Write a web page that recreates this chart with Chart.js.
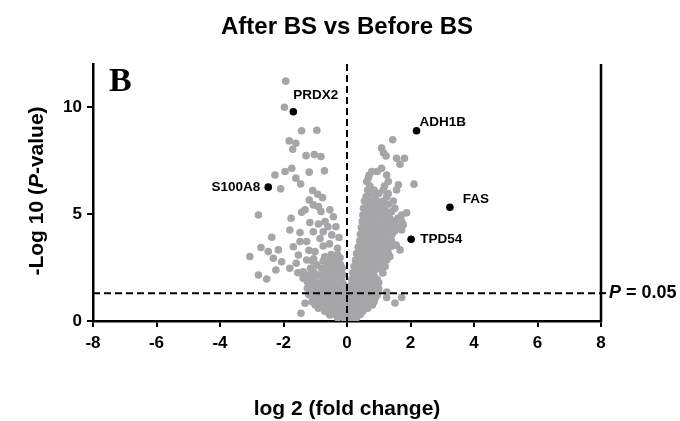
<!DOCTYPE html>
<html>
<head>
<meta charset="utf-8">
<script src="https://cdn.jsdelivr.net/npm/chart.js@4.4.1/dist/chart.umd.min.js"></script>
<style>
  html, body { margin: 0; padding: 0; background: #fff; }
  canvas { display: block; }
</style>
</head>
<body>
<canvas id="volcano" width="680" height="421"></canvas>
<script>
// labelled genes
const geneNames = ['PRDX2', 'S100A8', 'ADH1B', 'FAS', 'TPD54'];
const geneX = [-1.69, -2.48, 2.19, 3.24, 2.02];
const geneY = [9.77, 6.25, 8.88, 5.31, 3.82];

// down-regulated arm (left side)
const downPts = [
  [-1.93, 11.2], [-1.97, 9.98], [-1.43, 8.88], [-0.95, 8.91], [-1.82, 8.41], [-1.61, 8.30],
  [-1.71, 8.02], [-1.29, 7.72], [-1.03, 7.77], [-0.82, 7.68],
  [-1.74, 7.13], [-1.95, 6.98], [-2.27, 6.82], [-1.19, 6.95], [-0.71, 7.01], [-1.61, 6.67],
  [-1.46, 6.40], [-2.09, 6.17], [-1.08, 6.09], [-0.92, 5.92], [-0.77, 5.76], [-1.19, 5.65],
  [-1.06, 5.42], [-0.90, 5.34], [-1.32, 5.19], [-1.43, 5.08], [-0.82, 5.11], [-0.54, 5.19],
  [-0.43, 4.87], [-2.79, 4.95], [-1.76, 4.80], [-1.17, 4.60], [-0.90, 4.53], [-0.69, 4.64],
  [-1.80, 4.25], [-1.48, 4.13], [-1.06, 4.17], [-0.75, 4.17], [-0.48, 4.02], [-2.37, 3.91],
  [-2.71, 3.43], [-2.48, 3.24], [-2.16, 3.32], [-3.06, 3.01], [-2.32, 2.93], [-2.06, 2.77],
  [-1.80, 2.46], [-2.24, 2.38], [-2.79, 2.15], [-2.53, 1.96], [-1.69, 3.47], [-1.48, 3.71],
  [-1.27, 3.71], [-1.53, 3.08], [-1.27, 2.85], [-1.01, 3.24], [-0.95, 2.62], [-1.38, 2.30],
  [-1.38, 2.00], [-0.85, 2.15], [-0.54, 2.77], [-0.43, 1.84], [-1.17, 1.68], [-0.80, 1.53],
  [-1.32, 0.83], [-1.45, 0.36], [-0.95, 0.90], [-0.75, 0.59], [-0.54, 0.28],
  [-0.35, 4.4], [-0.25, 3.9], [-0.55, 3.6], [-0.3, 3.4], [-0.75, 3.5], [-0.85, 3.85],
  [-0.6, 4.4], [-1.2, 3.3], [-1.05, 2.9], [-0.7, 3.0], [-1.6, 2.7], [-1.55, 2.25],
  [-0.5, 3.1], [-0.3, 3.1], [-0.65, 2.95], [-0.4, 2.95], [-0.22, 2.95],
  [-1.1, 2.8], [-0.75, 2.8], [-0.5, 2.8], [-0.3, 2.8],
  [-0.6, 2.62], [-0.4, 2.62], [-0.2, 2.62],
  [-1.15, 2.46], [-0.8, 2.46], [-0.5, 2.46], [-0.3, 2.46], [-0.15, 2.46],
  [-1.05, 2.3], [-0.65, 2.3], [-0.4, 2.3], [-0.2, 2.3],
  [-1.2, 2.15], [-0.95, 2.15], [-0.55, 2.15], [-0.3, 2.15], [-0.12, 2.15],
  [-1.1, 2.0], [-0.7, 2.0], [-0.45, 2.0], [-0.22, 2.0],
  [-1.25, 1.84], [-1.0, 1.84], [-0.8, 1.84], [-0.6, 1.84], [-0.15, 1.84],
  [-0.9, 1.68], [-0.7, 1.68], [-0.5, 1.68], [-0.3, 1.68], [-0.1, 1.68],
  [-1.25, 1.53], [-1.0, 1.53], [-0.6, 1.53], [-0.4, 1.53], [-0.2, 1.53],
  [-1.15, 1.38], [-0.9, 1.38], [-0.7, 1.38], [-0.5, 1.38], [-0.3, 1.38], [-0.1, 1.38],
  [-1.2, 1.22], [-1.0, 1.22], [-0.8, 1.22], [-0.6, 1.22], [-0.4, 1.22], [-0.2, 1.22], [-0.05, 1.22],
  [-1.05, 1.06], [-0.85, 1.06], [-0.65, 1.06], [-0.45, 1.06], [-0.25, 1.06], [-0.1, 1.06]
];

// up-regulated arm (right side)
const upPts = [
  [1.44, 8.46], [1.09, 8.07], [1.15, 7.85], [1.23, 7.71], [1.56, 7.6], [1.81, 7.6], [1.67, 7.32],
  [1.09, 7.13], [0.78, 6.98], [0.95, 6.98], [0.7, 6.82], [1.25, 6.82],
  [0.67, 6.67], [0.62, 6.51], [1.3, 6.51], [2.11, 6.39], [1.62, 6.36],
  [0.72, 6.3], [1.18, 6.3], [0.65, 6.12], [0.85, 6.12], [1.14, 6.12], [1.56, 6.12],
  [0.7, 5.95], [1.0, 5.95], [1.3, 5.95], [0.6, 5.8], [0.88, 5.8], [1.25, 5.8],
  [0.55, 5.6], [0.75, 5.6], [0.95, 5.6], [1.15, 5.6], [1.46, 5.6],
  [0.65, 5.45], [0.85, 5.45], [1.09, 5.45], [1.3, 5.45],
  [0.52, 5.26], [0.72, 5.26], [0.94, 5.26], [1.15, 5.26], [1.51, 5.26],
  [0.6, 5.1], [0.8, 5.1], [1.0, 5.1], [1.25, 5.1], [1.4, 5.1], [1.88, 5.05],
  [0.5, 4.95], [0.7, 4.95], [0.9, 4.95], [1.1, 4.95], [1.3, 4.95], [1.72, 4.95],
  [0.6, 4.8], [0.8, 4.8], [1.0, 4.8], [1.14, 4.8], [1.35, 4.8], [1.6, 4.8],
  [0.48, 4.65], [0.7, 4.65], [0.9, 4.65], [1.1, 4.65], [1.3, 4.65], [1.5, 4.65], [1.72, 4.65],
  [0.57, 4.5], [0.78, 4.5], [1.04, 4.5], [1.25, 4.5], [1.41, 4.5], [1.77, 4.5],
  [0.45, 4.35], [0.65, 4.35], [0.85, 4.35], [1.05, 4.35], [1.2, 4.35], [1.4, 4.35], [1.6, 4.35],
  [0.5, 4.2], [0.72, 4.2], [0.92, 4.2], [1.12, 4.2], [1.32, 4.2], [1.5, 4.2], [1.72, 4.25],
  [0.42, 4.05], [0.62, 4.05], [0.82, 4.05], [1.0, 4.05], [1.2, 4.05], [1.42, 4.05],
  [0.5, 3.9], [0.7, 3.9], [0.9, 3.9], [1.1, 3.9], [1.3, 3.9],
  [0.4, 3.75], [0.6, 3.75], [0.8, 3.75], [1.0, 3.75], [1.2, 3.75], [1.4, 3.75],
  [0.48, 3.6], [0.68, 3.6], [0.88, 3.6], [1.08, 3.6], [1.28, 3.6], [1.55, 3.55],
  [0.35, 3.45], [0.55, 3.45], [0.75, 3.45], [0.95, 3.45], [1.15, 3.45], [1.35, 3.45], [1.46, 3.52],
  [0.42, 3.3], [0.62, 3.3], [0.82, 3.3], [1.02, 3.3], [1.22, 3.3], [1.67, 3.32],
  [0.3, 3.15], [0.5, 3.15], [0.7, 3.15], [0.9, 3.15], [1.1, 3.15], [1.3, 3.15],
  [0.38, 3.0], [0.58, 3.0], [0.78, 3.0], [0.98, 3.0], [1.18, 3.0], [1.35, 3.01],
  [0.27, 2.85], [0.47, 2.85], [0.67, 2.85], [0.87, 2.85], [1.07, 2.85], [1.25, 2.85],
  [0.35, 2.7], [0.55, 2.7], [0.75, 2.7], [0.95, 2.7], [1.15, 2.7],
  [0.22, 2.55], [0.42, 2.55], [0.62, 2.55], [0.82, 2.55], [1.02, 2.55], [1.2, 2.55],
  [0.3, 2.4], [0.5, 2.4], [0.7, 2.4], [0.9, 2.4], [1.1, 2.4],
  [0.18, 2.24], [0.38, 2.24], [0.58, 2.24], [0.78, 2.24], [1.13, 2.24],
  [0.25, 2.1], [0.45, 2.1], [0.65, 2.1], [0.85, 2.1],
  [0.15, 1.95], [0.35, 1.95], [0.55, 1.95], [0.75, 1.95], [0.95, 1.95],
  [0.22, 1.8], [0.42, 1.8], [0.62, 1.8], [0.82, 1.8], [1.0, 1.8],
  [0.12, 1.65], [0.32, 1.65], [0.52, 1.65], [0.72, 1.65], [0.92, 1.65],
  [0.2, 1.5], [0.4, 1.5], [0.6, 1.5], [0.8, 1.5], [1.0, 1.5],
  [0.1, 1.35], [0.3, 1.35], [0.5, 1.35], [0.7, 1.35], [0.9, 1.35], [1.25, 1.35],
  [0.18, 1.2], [0.38, 1.2], [0.58, 1.2], [0.78, 1.2], [0.95, 1.2],
  [1.25, 1.1], [1.72, 1.1],
  [0.08, 1.05], [0.28, 1.05], [0.48, 1.05], [0.68, 1.05], [0.88, 1.05], [1.51, 0.84]
];

// non-significant core near the origin
const corePts = [
  [-1.1, 0.9], [-0.9, 0.9], [-0.7, 0.9], [-0.5, 0.9], [-0.3, 0.9], [-0.1, 0.9],
  [0.1, 0.9], [0.3, 0.9], [0.5, 0.9], [0.7, 0.9], [0.85, 0.9],
  [-1.0, 0.75], [-0.8, 0.75], [-0.6, 0.75], [-0.4, 0.75], [-0.2, 0.75], [0.0, 0.75],
  [0.2, 0.75], [0.4, 0.75], [0.6, 0.75], [0.8, 0.75],
  [-0.9, 0.6], [-0.75, 0.6], [-0.55, 0.6], [-0.35, 0.6], [-0.15, 0.6], [0.05, 0.6],
  [0.25, 0.6], [0.45, 0.6], [0.65, 0.6],
  [-0.7, 0.45], [-0.5, 0.45], [-0.3, 0.45], [-0.1, 0.45], [0.1, 0.45], [0.3, 0.45], [0.5, 0.45],
  [-0.55, 0.3], [-0.35, 0.3], [-0.15, 0.3], [0.05, 0.3], [0.25, 0.3], [0.42, 0.3],
  [-0.3, 0.15], [-0.1, 0.15], [0.1, 0.15], [0.3, 0.15],
  [-0.05, 0.03], [0.1, 0.03]
];

const xTicks = [-8, -6, -4, -2, 0, 2, 4, 6, 8];
const yTicks = [0, 5, 10];
const pCutoff = 1.301; // -log10(0.05)

// label placement relative to each gene point: [dx, dy, align]
const labelOffsets = [[0, -16, 'left'], [-8, 0, 'right'], [3, -9, 'left'], [13, -8, 'left'], [9, 0, 'left']];

const GREY = '#a5a5aa';
const FONT = '"Liberation Sans", Arial, sans-serif';

const toXY = pts => pts.map(p => ({ x: p[0], y: p[1] }));

const overlay = {
  id: 'overlay',
  afterDatasetsDraw(chart) {
    const { ctx, chartArea: a, scales: { x, y } } = chart;
    const x0 = x.getPixelForValue(0);
    const yp = y.getPixelForValue(pCutoff);
    ctx.save();
    ctx.strokeStyle = '#000';
    ctx.lineWidth = 2;
    ctx.setLineDash([7, 4]);
    ctx.beginPath();
    ctx.moveTo(x0, a.top);
    ctx.lineTo(x0, a.bottom);
    ctx.moveTo(a.left, yp);
    ctx.lineTo(a.right, yp);
    ctx.stroke();
    ctx.setLineDash([]);

    // right frame line
    ctx.lineWidth = 2.5;
    ctx.beginPath();
    ctx.moveTo(a.right, a.top);
    ctx.lineTo(a.right, a.bottom + 1);
    ctx.stroke();
    ctx.lineWidth = 2;
    ctx.beginPath();
    ctx.moveTo(a.right, yp);
    ctx.lineTo(a.right + 5, yp);
    ctx.stroke();

    // gene labels
    ctx.fillStyle = '#000';
    ctx.font = 'bold 13.5px ' + FONT;
    ctx.textBaseline = 'middle';
    chart.getDatasetMeta(0).data.forEach((pt, i) => {
      const [dx, dy, align] = labelOffsets[i];
      ctx.textAlign = align;
      ctx.fillText(geneNames[i], pt.x + dx, pt.y + dy);
    });

    // P = 0.05
    ctx.textAlign = 'left';
    ctx.font = 'italic bold 18px ' + FONT;
    const px = a.right + 8;
    ctx.fillText('P', px, yp);
    const pw = ctx.measureText('P').width;
    ctx.font = 'bold 18px ' + FONT;
    ctx.fillText(' = 0.05', px + pw, yp);
    ctx.restore();
  },
  afterDraw(chart) {
    const { ctx, chartArea: a } = chart;
    ctx.save();
    ctx.fillStyle = '#000';
    ctx.textBaseline = 'middle';
    ctx.textAlign = 'center';

    ctx.font = 'bold 24px ' + FONT;
    ctx.fillText('After BS vs Before BS', 347, 27);

    ctx.font = 'bold 21px ' + FONT;
    ctx.fillText('log 2 (fold change)', (a.left + a.right) / 2, 409);

    // y title with italic P
    const parts = [['-Log 10 (', 'bold 21px '], ['P', 'italic bold 21px '], ['-value)', 'bold 21px ']];
    let total = 0;
    parts.forEach(p => { ctx.font = p[1] + FONT; total += ctx.measureText(p[0]).width; });
    ctx.translate(37, 191);
    ctx.rotate(-Math.PI / 2);
    ctx.textAlign = 'left';
    let cx = -total / 2;
    parts.forEach(p => {
      ctx.font = p[1] + FONT;
      ctx.fillText(p[0], cx, 0);
      cx += ctx.measureText(p[0]).width;
    });
    ctx.restore();

    // panel letter
    ctx.save();
    ctx.fillStyle = '#000';
    ctx.font = 'bold 34px "Liberation Serif", "Times New Roman", serif';
    ctx.textAlign = 'left';
    ctx.textBaseline = 'alphabetic';
    ctx.fillText('B', a.left + 16, a.top + 27);
    ctx.restore();
  }
};

const tickFont = { family: FONT, weight: 'bold', size: 17 };

new Chart(document.getElementById('volcano'), {
  type: 'scatter',
  data: {
    datasets: [
      {
        label: 'genes',
        data: geneX.map((v, i) => ({ x: v, y: geneY[i] })),
        backgroundColor: '#000',
        borderWidth: 0,
        pointRadius: 3.8
      },
      {
        label: 'up',
        data: toXY(upPts),
        backgroundColor: GREY,
        borderWidth: 0,
        pointRadius: 3.8
      },
      {
        label: 'down',
        data: toXY(downPts),
        backgroundColor: GREY,
        borderWidth: 0,
        pointRadius: 3.8
      },
      {
        label: 'core',
        data: toXY(corePts),
        backgroundColor: GREY,
        borderWidth: 0,
        pointRadius: 3.8
      }
    ]
  },
  options: {
    responsive: false,
    animation: false,
    layout: { padding: { top: 64, right: 79, left: 0, bottom: 0 } },
    plugins: { legend: { display: false }, tooltip: { enabled: false } },
    scales: {
      x: {
        type: 'linear',
        min: -8,
        max: 8,
        afterBuildTicks: s => { s.ticks = xTicks.map(v => ({ value: v })); },
        afterFit: s => { s.height = 100; },
        grid: { drawOnChartArea: false, color: '#000', lineWidth: 2, tickLength: 6 },
        border: { color: '#000', width: 2.5 },
        ticks: { color: '#000', font: tickFont, padding: 6, maxRotation: 0 }
      },
      y: {
        min: 0,
        max: 12,
        afterBuildTicks: s => { s.ticks = yTicks.map(v => ({ value: v })); },
        afterFit: s => { s.width = 93; },
        grid: { drawOnChartArea: false, color: '#000', lineWidth: 2, tickLength: 6 },
        border: { color: '#000', width: 2.5 },
        ticks: { color: '#000', font: tickFont, padding: 5 }
      }
    }
  },
  plugins: [overlay]
});
</script>
</body>
</html>
